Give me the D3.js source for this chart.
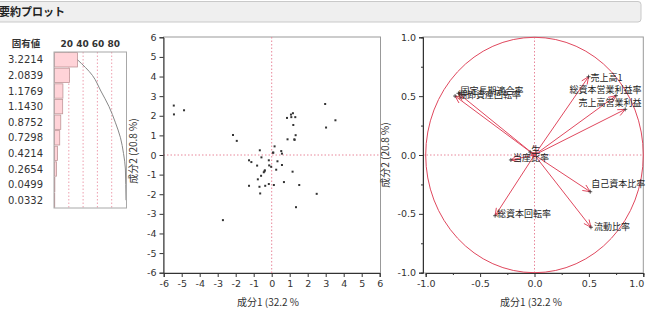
<!DOCTYPE html>
<html>
<head>
<meta charset="utf-8">
<script src="https://cdn.jsdelivr.net/npm/d3@7"></script>
<style>
  body { margin: 0; background: #fff; }
  text { font-family: "DejaVu Sans", Verdana, sans-serif; fill: #333; }
  .jp { font-family: "Noto Sans CJK JP", sans-serif; }
</style>
</head>
<body>
<div id="chart"></div>
<script>
// ---- data ----
var eigenvalues = [3.2214, 2.0839, 1.1769, 1.1430, 0.8752, 0.7298, 0.4214, 0.2654, 0.0499, 0.0332];
var pctTicks = [20, 40, 60, 80];

var scoreX = [-5.44, -5.43, -4.87, -2.15, -1.94, -2.71, 2.97, 3.54, 3.02, 2.50,
  1.35, 1.53, 1.16, 0.85, 1.07, 1.18, 1.09, 1.31, 1.20, 1.33,
  0.88, 1.26, 1.27, 0.16, 0.07, 0.09, 0.53, 0.57, -0.66, -0.57,
  -1.26, -1.13, -0.81, -0.16, -0.14, -0.03, 0.32, 0.57, 0.25, -0.38,
  -0.40, -0.44, -0.59, -0.77, -1.26, -0.68, -0.36, -0.16, 0.12, 0.68, -0.64];
var scoreY = [2.52, 2.07, 2.28, 1.02, 0.72, -3.32, 2.60, 1.77, 1.40, -1.98,
  -2.66, -1.53, -0.85, 1.89, 2.06, 2.13, 1.93, 1.93, 1.53, 1.01,
  0.80, 0.80, 0.77, 0.44, 0.12, 0.12, 0.20, 0.07, 0.24, -0.12,
  -0.27, -0.36, -0.54, -0.27, -0.53, -0.60, -0.32, -0.51, -0.75, -0.78,
  -0.83, -0.88, -1.06, -1.24, -1.57, -1.62, -1.57, -1.48, -1.53, -1.38, -1.96];

var loadingNames = ["売上高1", "総資本営業利益率", "売上高営業利益", "固定長期適合率", "棚卸資産回転率",
  "自己資本比率", "流動比率", "総資本回転率", "当座比率", "生"];
var loadingX = [0.497, 0.749, 0.834, -0.699, -0.730, 0.512, 0.519, -0.362, -0.217, -0.040];
var loadingY = [0.665, 0.504, 0.388, 0.524, 0.501, -0.312, -0.614, -0.516, -0.042, 0.025];

var xTitle = "成分1 (32.2 %";
var yTitle = "成分2 (20.8 %)";

// label placement tweaks (pixels, relative to arrow tip)
var labelNudge = [[2, 1, "start"], [0, -6, "end"], [0, -7, "end"], [2, -3, "start"], [3, -1, "start"],
  [1, -8, "start"], [3, -1, "start"], [2, -2, "start"], [2, -2, "start"], [1, -2, "start"]];

var W = 648, H = 312;
var red = "#e0485e", pinkDot = "#e8879a";

// plain hyphen minus, like the original
function fmtInt(d) { return d < 0 ? "-" + Math.abs(d) : String(d); }
function fmt1(d) { return d < 0 ? "-" + Math.abs(d).toFixed(1) : d.toFixed(1); }

var svg = d3.select("#chart").append("svg")
    .attr("width", W).attr("height", H);

// ---- header ----
svg.append("rect")
    .attr("x", -4).attr("y", 1.5).attr("width", 645).attr("height", 20.5)
    .attr("rx", 3)
    .attr("fill", "#efefef").attr("stroke", "#c9c9c9");
svg.append("text").attr("class", "jp")
    .attr("x", -1).attr("y", 15.5)
    .attr("font-size", 11).attr("font-weight", "bold")
    .style("fill", "#222")
    .text("要約プロット");

// ---- eigenvalue panel ----
var total = d3.sum(eigenvalues);
var pct = eigenvalues.map(function(d) { return d / total * 100; });
var cum = d3.cumsum(pct);

var ex = d3.scaleLinear().domain([0, 100]).range([54.5, 126]);
var ey = d3.scaleBand().domain(d3.range(eigenvalues.length)).range([52, 208]).paddingInner(0.08).paddingOuter(0.04);

var eg = svg.append("g");
eg.append("text").attr("class", "jp")
    .attr("x", 26).attr("y", 47)
    .attr("text-anchor", "middle")
    .attr("font-size", 9.5).attr("font-weight", "bold")
    .text("固有値");
eg.append("text")
    .attr("x", ex(50)).attr("y", 47)
    .attr("text-anchor", "middle")
    .attr("font-size", 9).attr("font-weight", "bold")
    .text(pctTicks.join(" "));

eg.selectAll(".ev").data(eigenvalues).enter().append("text")
    .attr("class", "ev")
    .attr("x", 43).attr("y", function(d, i) { return ey(i) + ey.bandwidth() / 2 + 3.5; })
    .attr("text-anchor", "end")
    .attr("font-size", 10)
    .text(function(d) { return d.toFixed(4); });

eg.selectAll(".grid").data(pctTicks).enter().append("line")
    .attr("x1", function(d) { return ex(d); }).attr("x2", function(d) { return ex(d); })
    .attr("y1", 52).attr("y2", 208)
    .attr("stroke", pinkDot).attr("stroke-width", 0.8).attr("stroke-dasharray", "1.5,2");

eg.selectAll(".bar").data(pct).enter().append("rect")
    .attr("x", ex(0))
    .attr("y", function(d, i) { return ey(i); })
    .attr("width", function(d) { return ex(d) - ex(0); })
    .attr("height", ey.bandwidth())
    .attr("fill", "#ffd3d8").attr("stroke", "#c09598").attr("stroke-width", 0.8);

var cumLine = d3.line()
    .x(function(d) { return ex(d); })
    .y(function(d, i) { return ey(i) + ey.bandwidth() / 2; })
    .curve(d3.curveMonotoneY);
eg.append("path").datum(cum)
    .attr("d", cumLine)
    .attr("fill", "none").attr("stroke", "#888").attr("stroke-width", 1);

eg.append("rect")
    .attr("x", 54).attr("y", 52).attr("width", 72.5).attr("height", 156)
    .attr("fill", "none").attr("stroke", "#a8a8a8");

// ---- score plot ----
var sx = d3.scaleLinear().domain([-6, 6]).range([163.7, 379.7]);
var sy = d3.scaleLinear().domain([-6, 6]).range([272.7, 37.3]);
var sg = svg.append("g");

sg.append("rect")
    .attr("x", 163.5).attr("y", 37).attr("width", 217).attr("height", 236)
    .attr("fill", "none").attr("stroke", "#999");

sg.append("line")
    .attr("x1", sx(0)).attr("x2", sx(0)).attr("y1", 37).attr("y2", 273)
    .attr("stroke", pinkDot).attr("stroke-dasharray", "1.5,2");
sg.append("line")
    .attr("x1", 163.5).attr("x2", 380.5).attr("y1", sy(0)).attr("y2", sy(0))
    .attr("stroke", pinkDot).attr("stroke-dasharray", "1.5,2");

sg.selectAll(".pt").data(scoreX).enter().append("rect")
    .attr("x", function(d) { return sx(d) - 1; })
    .attr("y", function(d, i) { return sy(scoreY[i]) - 1; })
    .attr("width", 2).attr("height", 2)
    .attr("fill", "#333");

var sxAxis = d3.axisBottom(sx).ticks(12).tickFormat(fmtInt).tickSize(4).tickPadding(3);
var syAxis = d3.axisLeft(sy).ticks(12).tickFormat(fmtInt).tickSize(4).tickPadding(3);
sg.append("g").attr("transform", "translate(0,273)").call(sxAxis);
sg.append("g").attr("transform", "translate(163.5,0)").call(syAxis);

sg.append("text").attr("class", "jp")
    .attr("x", 268).attr("y", 306)
    .attr("text-anchor", "middle").attr("font-size", 10)
    .text(xTitle);
sg.append("text").attr("class", "jp")
    .attr("transform", "translate(137,151) rotate(-90)")
    .attr("text-anchor", "middle").attr("font-size", 10)
    .text(yTitle);

// ---- loading plot ----
var lx = d3.scaleLinear().domain([-1, 1]).range([425.7, 643.3]);
var ly = d3.scaleLinear().domain([-1, 1]).range([272.7, 37.3]);
var lg = svg.append("g");

lg.append("rect")
    .attr("x", 423).attr("y", 37).attr("width", 220.3).attr("height", 236)
    .attr("fill", "none").attr("stroke", "#999");

lg.append("line")
    .attr("x1", lx(0)).attr("x2", lx(0)).attr("y1", 37).attr("y2", 273)
    .attr("stroke", pinkDot).attr("stroke-dasharray", "1.5,2");
lg.append("line")
    .attr("x1", 423).attr("x2", 643).attr("y1", ly(0)).attr("y2", ly(0))
    .attr("stroke", pinkDot).attr("stroke-dasharray", "1.5,2");

lg.append("ellipse")
    .attr("cx", lx(0)).attr("cy", ly(0))
    .attr("rx", lx(1) - lx(0)).attr("ry", ly(0) - ly(1))
    .attr("fill", "none").attr("stroke", red).attr("stroke-width", 1);

loadingNames.forEach(function(name, i) {
  var x0 = lx(0), y0 = ly(0), x1 = lx(loadingX[i]), y1 = ly(loadingY[i]);
  var a = Math.atan2(y1 - y0, x1 - x0), len = 8, sp = 0.42;
  var head = "M" + (x1 - len * Math.cos(a - sp)) + "," + (y1 - len * Math.sin(a - sp)) +
    "L" + x1 + "," + y1 +
    "L" + (x1 - len * Math.cos(a + sp)) + "," + (y1 - len * Math.sin(a + sp));
  lg.append("line")
      .attr("x1", x0).attr("y1", y0).attr("x2", x1).attr("y2", y1)
      .attr("stroke", red).attr("stroke-width", 1);
  lg.append("path").attr("d", head)
      .attr("fill", "none").attr("stroke", red).attr("stroke-width", 1);
  lg.append("path")
      .attr("d", "M" + (x1 - 2) + "," + y1 + "h4M" + x1 + "," + (y1 - 2) + "v4")
      .attr("stroke", "#333").attr("stroke-width", 0.8);
  var n = labelNudge[i];
  var tx = n[2] === "end" ? 641.5 : x1 + n[0];
  lg.append("text").attr("class", "jp")
      .attr("x", tx).attr("y", y1 + n[1] + 3.3)
      .attr("text-anchor", n[2])
      .attr("font-size", 9)
      .style("fill", "#222")
      .text(name);
});

var lxAxis = d3.axisBottom(lx).tickValues([-1, -0.5, 0, 0.5, 1]).tickFormat(fmt1).tickSize(4).tickPadding(3);
var lyAxis = d3.axisLeft(ly).tickValues([-1, -0.5, 0, 0.5, 1]).tickFormat(fmt1).tickSize(4).tickPadding(3);
var lxMinor = d3.axisBottom(lx).tickValues([-0.75, -0.25, 0.25, 0.75]).tickFormat("").tickSize(2);
var lyMinor = d3.axisLeft(ly).tickValues([-0.75, -0.25, 0.25, 0.75]).tickFormat("").tickSize(2);
var lxg = lg.append("g").attr("transform", "translate(0,273)").call(lxAxis);
lg.append("g").attr("transform", "translate(0,273)").call(lxMinor);
lg.append("g").attr("transform", "translate(423,0)").call(lyAxis);
lg.append("g").attr("transform", "translate(423,0)").call(lyMinor);
// last x label sits flush with the frame edge
lxg.selectAll(".tick text").filter(function(d) { return d === 1; })
    .attr("text-anchor", "end").attr("x", 0.5);

lg.append("text").attr("class", "jp")
    .attr("x", 531).attr("y", 306)
    .attr("text-anchor", "middle").attr("font-size", 10)
    .text(xTitle);
lg.append("text").attr("class", "jp")
    .attr("transform", "translate(389,155) rotate(-90)")
    .attr("text-anchor", "middle").attr("font-size", 10)
    .text(yTitle);

svg.selectAll(".tick text").attr("font-size", 9.5).style("font-family", "DejaVu Sans, sans-serif");
svg.selectAll(".domain").attr("stroke", "#333");
svg.selectAll(".tick line").attr("stroke", "#333");
</script>
</body>
</html>
